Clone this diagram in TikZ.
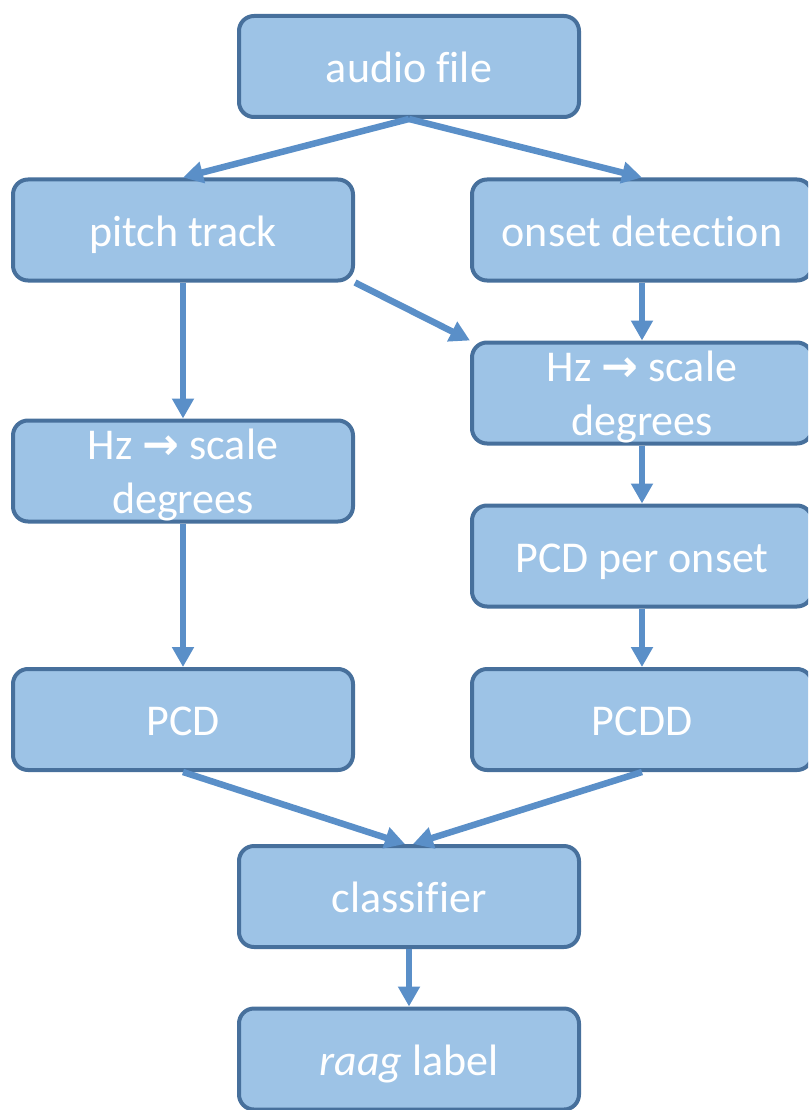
\documentclass[tikz,border=0pt]{standalone}
\usepackage{fontspec}
\setmainfont{Carlito}[Ligatures=NoCommon]
\newfontfamily\arrowfont{DejaVu Sans}
\usetikzlibrary{arrows.meta}
\definecolor{boxfill}{HTML}{9DC3E6}
\definecolor{boxline}{HTML}{47709C}
\definecolor{arrowcol}{HTML}{5A8FC8}
\newcommand\lowtext[2][16pt]{\raisebox{-#1}[0pt][0pt]{\begin{tabular}[b]{@{}c@{}}#2\end{tabular}}}
\tikzset{
  flowbox/.style={draw=boxline, fill=boxfill, line width=4pt, rounded corners=15pt,
    minimum width=340pt, minimum height=101pt, inner sep=0pt, text=white,
    align=center, font=\fontsize{44}{54}\selectfont},
  flowarrow/.style={draw=arrowcol, line width=6.5pt,
    -{Triangle[length=20pt,width=21pt]}}
}
\begin{document}
\begin{tikzpicture}[x=1pt,y=-1pt]
\useasboundingbox (0,0) rectangle (808,1110);
\clip (0,0) rectangle (808,1110);
\node[flowbox] (audio) at (409,66.5) {\lowtext{audio file}};
\node[flowbox] (pitch) at (183,230) {\lowtext{pitch track}};
\node[flowbox] (onset) at (642,230) {\lowtext{onset detection}};
\node[flowbox] (lhz) at (183,471) {\lowtext[42pt]{Hz {\arrowfont\bfseries →} scale\\degrees}};
\node[flowbox] (rhz) at (642,393) {\lowtext[42pt]{Hz {\arrowfont\bfseries →} scale\\degrees}};
\node[flowbox] (ppo) at (642,556) {\lowtext{PCD per onset}};
\node[flowbox] (pcd) at (183,719.5) {\lowtext{PCD}};
\node[flowbox] (pcdd) at (642,719.5) {\lowtext{PCDD}};
\node[flowbox] (cls) at (409,896.5) {\lowtext{classifier}};
\node[flowbox] (raag) at (409,1059) {\lowtext{\textit{raag} label}};
\draw[flowarrow] (audio.south) -- (pitch.north);
\draw[flowarrow] (audio.south) -- (onset.north);
\draw[flowarrow] (pitch.south) -- (lhz.north);
\draw[flowarrow] (pitch.south east) -- (rhz.north west);
\draw[flowarrow] (onset.south) -- (rhz.north);
\draw[flowarrow] (rhz.south) -- (ppo.north);
\draw[flowarrow] (ppo.south) -- (pcdd.north);
\draw[flowarrow] (lhz.south) -- (pcd.north);
\draw[flowarrow] (pcd.south) -- ([xshift=-4pt]cls.north);
\draw[flowarrow] (pcdd.south) -- ([xshift=4pt]cls.north);
\draw[flowarrow] (cls.south) -- (raag.north);
\end{tikzpicture}
\end{document}
